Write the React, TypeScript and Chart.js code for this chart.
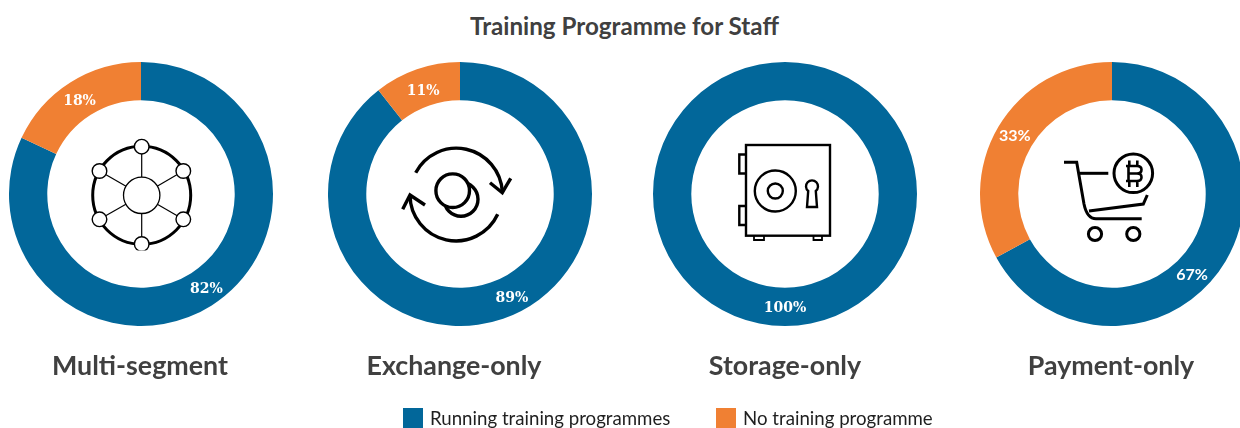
import React, { useEffect, useRef } from "react";
import { Chart, registerables } from "chart.js";

Chart.register(...registerables);

const title = "Training Programme for Staff";
const categories = ["Multi-segment", "Exchange-only", "Storage-only", "Payment-only"];
const seriesNames = ["Running training programmes", "No training programme"];
const runningValues = [82, 89.4, 100, 67];
const noneValues = [18, 10.6, 0, 33];
const colors = ["#02679A", "#F08033"];
const centerX = [141, 460, 785, 1112];
const labelX = [140, 454, 785, 1111];
const legendX = [403, 716];
const runningLabelNudge = [
  [5, 0],
  [15, -2],
  [0, 1],
  [-17, 23],
];
const noneLabelNudge = [
  [-1, 3],
  [0, 4],
  [0, 0],
  [0, -1],
];
const labelFonts = [
  "bold 14px 'DejaVu Serif'",
  "bold 14px 'DejaVu Serif'",
  "bold 14px 'DejaVu Serif'",
  "bold 16px Lato",
];
const ICON_INK = "#000";

const RADIUS = 132;
const CENTER_Y = 194;

const percentLabels = {
  id: "percentLabels",
  afterDatasetsDraw(chart: any, _args: any, opts: any) {
    const { ctx } = chart;
    const meta = chart.getDatasetMeta(0);
    const values = chart.data.datasets[0].data as number[];
    ctx.save();
    ctx.font = opts.font;
    ctx.fillStyle = "#fff";
    ctx.textAlign = "center";
    ctx.textBaseline = "middle";
    meta.data.forEach((arc: any, i: number) => {
      if (!values[i]) return;
      const p = arc.getProps(["startAngle", "endAngle", "innerRadius", "outerRadius", "x", "y"], true);
      const mid = (p.startAngle + p.endAngle) / 2;
      const r = (p.innerRadius + p.outerRadius) / 2;
      const [dx, dy] = opts.nudges[i];
      ctx.fillText(`${Math.round(values[i])}%`, p.x + Math.cos(mid) * r + dx, p.y + Math.sin(mid) * r + dy);
    });
    ctx.restore();
  },
};

function Donut({ index }: { index: number }) {
  const ref = useRef<HTMLCanvasElement>(null);
  useEffect(() => {
    const chart = new Chart(ref.current as HTMLCanvasElement, {
      type: "doughnut",
      data: {
        labels: seriesNames,
        datasets: [
          {
            data: [runningValues[index], noneValues[index]],
            backgroundColor: colors,
            borderWidth: 0,
          },
        ],
      },
      options: {
        responsive: false,
        animation: false,
        cutout: "71%",
        layout: { padding: 0 },
        plugins: {
          legend: { display: false },
          tooltip: { enabled: false },
          percentLabels: {
            nudges: [runningLabelNudge[index], noneLabelNudge[index]],
            font: labelFonts[index],
          },
        } as any,
      },
      plugins: [percentLabels],
    });
    return () => chart.destroy();
  }, [index]);
  return (
    <canvas
      ref={ref}
      width={RADIUS * 2}
      height={RADIUS * 2}
      style={{
        position: "absolute",
        left: centerX[index] - RADIUS,
        top: CENTER_Y - RADIUS,
        width: RADIUS * 2,
        height: RADIUS * 2,
      }}
    />
  );
}

function NetworkIcon() {
  const nodes = [
    [141.7, 146.7],
    [99.5, 171],
    [183.3, 171],
    [99.5, 219.3],
    [183.3, 219.3],
    [141.7, 244],
  ];
  return (
    <g fill="#fff" stroke={ICON_INK}>
      <circle cx={141.7} cy={195.3} r={49} strokeWidth="3" fill="none" />
      {nodes.map(([x, y], i) => (
        <line key={i} x1={x} y1={y} x2={141.7} y2={195.3} strokeWidth="1.2" />
      ))}
      <circle cx={141.7} cy={195.3} r={18.2} strokeWidth="1.3" />
      {nodes.map(([x, y], i) => (
        <circle key={i} cx={x} cy={y} r={7.3} strokeWidth="1.4" />
      ))}
      <rect x={120} y={250.5} width={44} height={5} fill="#fff" stroke="none" />
    </g>
  );
}

function ExchangeIcon() {
  return (
    <g fill="none" stroke={ICON_INK} strokeWidth="3.4">
      <path d="M415.7 172.7 A46 46 0 0 1 502.3 191.7" />
      <path d="M490 182.7 L502.3 192.7 L510.7 178.3" />
      <path d="M497.7 214.3 A46 46 0 0 1 410 195" />
      <path d="M402.7 209.3 L410 195 L425 205" />
      <circle cx={461} cy={199.3} r={17} />
      <circle cx={452.7} cy={190.7} r={16.8} fill="#fff" />
    </g>
  );
}

function SafeIcon() {
  return (
    <g fill="none" stroke={ICON_INK} strokeWidth="2.4">
      <rect x={746} y={145} width={84} height={90.7} />
      <path d="M745 154.5 H739.3 V173.5 H745 M745 206 H739.3 V225 H745" />
      <path d="M754 236 V240 H764 V236 M813.5 236 V240 H822 V236" strokeWidth="1.8" />
      <circle cx={775.3} cy={191} r={20.5} />
      <circle cx={775.3} cy={191} r={7.5} />
      <path d="M808.2 191 A6 6 0 1 1 815.8 191 L817 207 H807 Z" />
    </g>
  );
}

function CartIcon() {
  return (
    <g fill="none" stroke={ICON_INK} strokeWidth="3">
      <path d="M1064 162.3 H1076.7 L1084 204 Q1087 218.7 1096 218.7 H1141.7" />
      <path d="M1080 173.3 H1108.3" />
      <path d="M1089 211 L1143.3 204 L1147.3 195" />
      <circle cx={1133.3} cy={173.3} r={19.3} />
      <circle cx={1095} cy={234} r={6.6} />
      <circle cx={1133.3} cy={234} r={6.6} />
      <path
        d="M1129.3 160.5 V166 M1137.3 160.5 V166 M1129.3 181 V187 M1137.3 181 V187 M1126 166 H1137 Q1141.5 166 1141.5 169.8 Q1141.5 173.5 1137 173.5 H1128 M1137 173.5 Q1141.5 173.5 1141.5 177.2 Q1141.5 181 1137 181 H1126 M1128.5 166 V181"
        strokeWidth="2.6"
      />
    </g>
  );
}

export default function App() {
  return (
    <div
      style={{
        position: "absolute",
        left: 0,
        top: 0,
        width: 1240,
        height: 428,
        overflow: "hidden",
        background: "#fff",
        fontFamily: "Lato, sans-serif",
      }}
    >
      <div
        style={{
          position: "absolute",
          left: 0,
          width: 1249,
          top: 11,
          textAlign: "center",
          fontSize: 24.2,
          fontWeight: 700,
          color: "#404040",
          lineHeight: "30px",
        }}
      >
        {title}
      </div>
      {categories.map((_, i) => (
        <Donut key={i} index={i} />
      ))}
      <svg width={1240} height={428} style={{ position: "absolute", left: 0, top: 0, pointerEvents: "none" }}>
        <NetworkIcon />
        <ExchangeIcon />
        <SafeIcon />
        <CartIcon />
      </svg>
      {categories.map((c, i) => (
        <div
          key={c}
          style={{
            position: "absolute",
            left: labelX[i] - 150,
            width: 300,
            top: 348,
            textAlign: "center",
            fontSize: 26.8,
            fontWeight: 700,
            color: "#404040",
            lineHeight: "34px",
          }}
        >
          {c}
        </div>
      ))}
      {seriesNames.map((s, i) => (
        <React.Fragment key={s}>
          <span
            style={{
              position: "absolute",
              left: legendX[i],
              top: 408,
              width: 20,
              height: 20,
              background: colors[i],
            }}
          />
          <span
            style={{
              position: "absolute",
              left: legendX[i] + 27,
              top: 406,
              lineHeight: "24px",
              fontSize: 18.67,
              color: "#1f1f1f",
              whiteSpace: "nowrap",
            }}
          >
            {s}
          </span>
        </React.Fragment>
      ))}
    </div>
  );
}
